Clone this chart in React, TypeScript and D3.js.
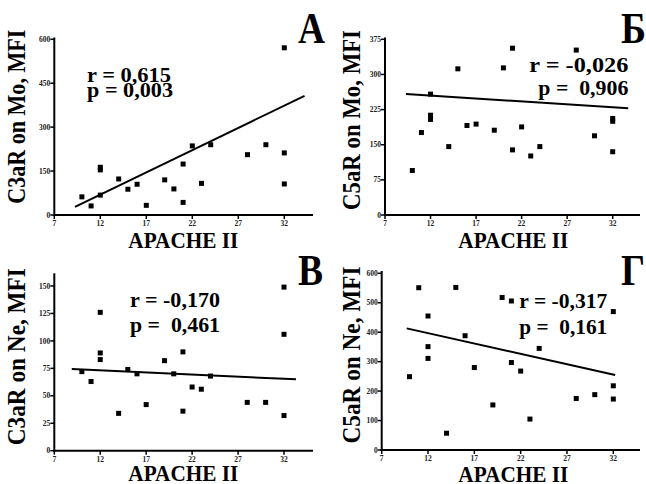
import React from "react";
import * as d3 from "d3";

// ---- data ----
const apache = [10, 11, 12, 12, 12, 14, 15, 16, 17, 19, 20, 21, 21, 22, 23, 24, 28, 30, 32, 32, 32];
const c3aMo = [62, 31, 68, 163, 154, 123, 88, 105, 33, 120, 89, 174, 43, 236, 108, 240, 206, 240, 212, 106, 571];
const c5aMo = [95, 176, 258, 213, 204, 146, 312, 191, 194, 181, 314, 356, 139, 188, 126, 146, 352, 169, 206, 200, 135];
const c3aNe = [72, 63, 126, 89, 83, 34, 74, 70, 42, 82, 70, 90, 36, 58, 56, 68, 44, 44, 149, 106, 32];
const c5aNe = [249, 551, 455, 351, 311, 57, 552, 388, 280, 153, 518, 506, 297, 268, 105, 345, 175, 188, 470, 218, 173];

// regression line end points [x0, y0, x1, y1]
const fitA = [9.25, 28, 34.2, 407];
const fitB = [9.3, 258, 33.7, 228];
const fitC = [8.9, 74.4, 33.3, 65];
const fitD = [9.7, 413, 32.2, 255];

const xTicks = [7, 12, 17, 22, 27, 32];
const yTicksA = [0, 150, 300, 450, 600];
const yTicksB = [0, 75, 150, 225, 300, 375];
const yTicksC = [0, 25, 50, 75, 100, 125, 150];
const yTicksD = [0, 100, 200, 300, 400, 500, 600];

const yLabels = ["C3aR on Mo, MFI", "C5aR on Mo, MFI", "C3aR on Ne, MFI", "C5aR on Ne, MFI"];
const xLabel = "APACHE II";
const letters = ["А", "Б", "В", "Г"];
const rTexts = ["r = 0,615", "r = -0,026", "r = -0,170", "r = -0,317"];
const pTexts = ["p = 0,003", "p =  0,906", "p =  0,461", "p =  0,161"];

const FONT = "'Liberation Serif', 'Times New Roman', serif";

type Layout = {
  x0: number; x32: number; xEnd: number;
  yBase: number; yTopTick: number; yTopVal: number; yAxisTop: number;
  statX: number; statAnchor: "start" | "end"; rBase: number; pBase: number; rLen: number; pLen: number;
  ylabX: number; ylabY: number; ylabLen: number;
  xlabX: number; xlabY: number;
  letX: number; letY: number; letW: number;
};

const layouts: Layout[] = [
  { x0: 54.3, x32: 284.3, xEnd: 313, yBase: 215, yTopTick: 39.3, yTopVal: 600, yAxisTop: 37.5,
    statX: 87, statAnchor: "start", rBase: 81.7, pBase: 96.7, rLen: 84, pLen: 86,
    ylabX: 25, ylabY: 116.7, ylabLen: 174, xlabX: 183.3, xlabY: 248.3, letX: 298, letY: 43, letW: 27 },
  { x0: 385, x32: 612.7, xEnd: 640, yBase: 215, yTopTick: 39.3, yTopVal: 375, yAxisTop: 37.5,
    statX: 628.3, statAnchor: "end", rBase: 71.7, pBase: 95, rLen: 99, pLen: 90,
    ylabX: 360, ylabY: 120, ylabLen: 180, xlabX: 513.3, xlabY: 248.3, letX: 621, letY: 43, letW: 25 },
  { x0: 54.3, x32: 284, xEnd: 313, yBase: 450.7, yTopTick: 286, yTopVal: 150, yAxisTop: 273.3,
    statX: 130, statAnchor: "start", rBase: 306.7, pBase: 332.3, rLen: 90, pLen: 90,
    ylabX: 25, ylabY: 356.7, ylabLen: 177, xlabX: 183.3, xlabY: 480.5, letX: 298, letY: 285, letW: 25 },
  { x0: 381.7, x32: 613.3, xEnd: 640, yBase: 450, yTopTick: 273.3, yTopVal: 600, yAxisTop: 271,
    statX: 607.3, statAnchor: "end", rBase: 308.3, pBase: 334.3, rLen: 88, pLen: 88,
    ylabX: 360, ylabY: 355, ylabLen: 177, xlabX: 513.3, xlabY: 481.7, letX: 621, letY: 285, letW: 24 },
];

const panelData = [
  { ys: c3aMo, fit: fitA, yTicks: yTicksA },
  { ys: c5aMo, fit: fitB, yTicks: yTicksB },
  { ys: c3aNe, fit: fitC, yTicks: yTicksC },
  { ys: c5aNe, fit: fitD, yTicks: yTicksD },
];

function Panel({ i }: { i: number }) {
  const L = layouts[i];
  const P = panelData[i];
  const x = d3.scaleLinear().domain([7, 32]).range([L.x0, L.x32]);
  const y = d3.scaleLinear().domain([0, L.yTopVal]).range([L.yBase, L.yTopTick]);
  const line = d3.line<[number, number]>().x((d) => x(d[0])).y((d) => y(d[1]));
  const fitPts: [number, number][] = [[P.fit[0], P.fit[1]], [P.fit[2], P.fit[3]]];
  const ms = 5;
  return (
    <g>
      {/* axes */}
      <line x1={L.x0} x2={L.x0} y1={L.yAxisTop} y2={L.yBase + 1} stroke="#000" strokeWidth={2} />
      <line x1={L.x0 - 1} x2={L.xEnd} y1={L.yBase} y2={L.yBase} stroke="#000" strokeWidth={2} />
      {xTicks.map((t) => (
        <g key={"xt" + t}>
          <line x1={x(t)} x2={x(t)} y1={L.yBase} y2={L.yBase + 4} stroke="#000" strokeWidth={1.5} />
          <text x={x(t)} y={L.yBase + 11} fontSize={7.5} fontWeight="bold" textAnchor="middle" fontFamily={FONT} fill="#222">{t}</text>
        </g>
      ))}
      {P.yTicks.map((t) => (
        <g key={"yt" + t}>
          <line x1={L.x0 - 4} x2={L.x0} y1={y(t)} y2={y(t)} stroke="#000" strokeWidth={1.5} />
          <text x={L.x0 - 4} y={y(t) + 2.6} fontSize={7.5} fontWeight="bold" textAnchor="end" fontFamily={FONT} fill="#222">{t}</text>
        </g>
      ))}
      {/* points */}
      {apache.map((a, k) => (
        <rect key={"p" + k} x={x(a) - ms / 2} y={y(P.ys[k]) - ms / 2} width={ms} height={ms} fill="#000" />
      ))}
      {/* regression */}
      <path d={line(fitPts) || ""} stroke="#000" strokeWidth={2} fill="none" />
      {/* stats */}
      <text x={L.statX} y={L.rBase} fontSize={20} fontWeight="bold" fontFamily={FONT} textAnchor={L.statAnchor}
        textLength={L.rLen} lengthAdjust="spacingAndGlyphs">{rTexts[i]}</text>
      <text x={L.statX} y={L.pBase} fontSize={20} fontWeight="bold" fontFamily={FONT} textAnchor={L.statAnchor}
        textLength={L.pLen} lengthAdjust="spacingAndGlyphs" style={{ whiteSpace: "pre" }}>{pTexts[i]}</text>
      {/* labels */}
      <text transform={`translate(${L.ylabX},${L.ylabY}) rotate(-90)`} fontSize={25} fontWeight="bold" fontFamily={FONT}
        textAnchor="middle" textLength={L.ylabLen} lengthAdjust="spacingAndGlyphs">{yLabels[i]}</text>
      <text x={L.xlabX} y={L.xlabY} fontSize={22.5} fontWeight="bold" fontFamily={FONT} textAnchor="middle"
        textLength={110} lengthAdjust="spacingAndGlyphs">{xLabel}</text>
      <text x={L.letX} y={L.letY} fontSize={45} fontWeight="bold" fontFamily={FONT}
        textLength={L.letW} lengthAdjust="spacingAndGlyphs">{letters[i]}</text>
    </g>
  );
}

export default function App() {
  return (
    <svg width={646} height={484} style={{ position: "absolute", left: 0, top: 0, background: "#fff" }}>
      <rect width={646} height={484} fill="#fff" />
      {[0, 1, 2, 3].map((i) => <Panel key={i} i={i} />)}
    </svg>
  );
}
